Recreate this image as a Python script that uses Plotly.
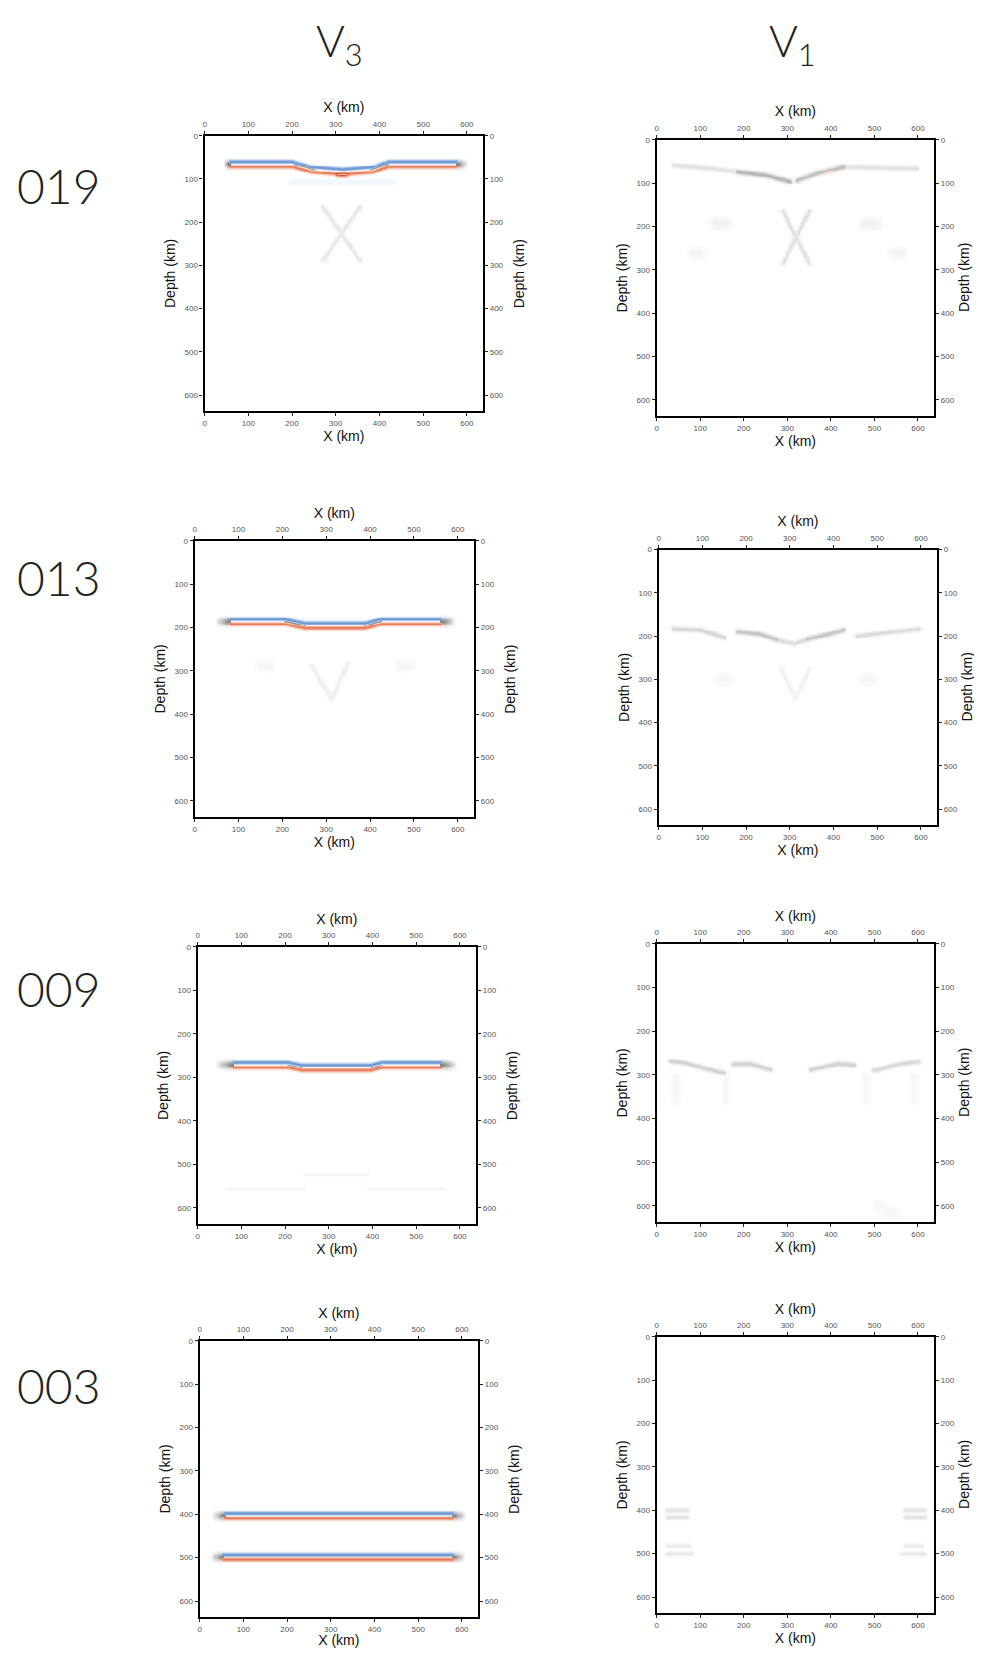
import numpy as np
import plotly.graph_objects as go

# ---------------- data ----------------
COLUMN_TITLES = ["V<sub>3</sub>", "V<sub>1</sub>"]
ROW_LABELS = ["019", "013", "009", "003"]
TICKS = [0, 100, 200, 300, 400, 500, 600]
AXIS_MAX = 637
X_TITLE = "X (km)"
Y_TITLE = "Depth (km)"

# Reflectors (blue over red doublet): x path (km), depth of blue lobe (km), left/right grey fade (km)
V3_019_REFLECTORS = [([55, 200, 245, 315, 385, 420, 580], [61, 61, 73, 78, 73, 61, 61], 12, 22)]
V3_013_REFLECTORS = [([77, 206, 251, 388, 425, 566], [181, 181, 190, 190, 181, 181], 30, 30)]
V3_009_REFLECTORS = [([78, 207, 237, 397, 420, 561], [266, 266, 272, 272, 266, 266], 38, 34)]
V3_003_REFLECTORS = [([54, 583], [398, 398], 25, 27), ([50, 583], [493, 493], 25, 25)]

# Grey streaks: x path (km), depth path (km), intensity, half-width (km)
V3_019_STREAKS = [
    ([271, 355], [165, 288], 0.10, 4), ([355, 271], [165, 288], 0.10, 4),
    ([205, 250], [66, 78], 0.45, 1.8), ([380, 420], [78, 66], 0.45, 1.8),
]
V3_013_STREAKS = [
    ([266, 312], [288, 365], 0.07, 4), ([350, 312], [281, 365], 0.07, 4),
    ([150, 170], [288, 288], 0.04, 10), ([470, 490], [288, 288], 0.04, 10),
    ([206, 251], [186, 195], 0.45, 1.8), ([388, 425], [195, 186], 0.45, 1.8),
]
V3_009_STREAKS = [
    ([245, 390], [523, 523], 0.05, 3), ([70, 245], [557, 557], 0.05, 3), ([390, 561], [557, 557], 0.05, 3),
    ([207, 237], [272, 278], 0.4, 1.8), ([397, 420], [278, 272], 0.4, 1.8),
]
V3_003_STREAKS = []

V1_019_STREAKS = [
    ([40, 120, 185], [59, 66, 74], 0.13, 4),
    ([185, 250, 307], [74, 82, 97], 0.33, 4),
    ([322, 370, 429], [94, 77, 63], 0.28, 4),
    ([429, 520, 597], [63, 65, 67], 0.13, 4),
    ([290, 350], [165, 285], 0.13, 4), ([350, 290], [165, 285], 0.13, 4),
    ([135, 160], [193, 193], 0.06, 10), ([478, 503], [193, 193], 0.06, 10),
    ([85, 100], [262, 262], 0.05, 10), ([545, 560], [262, 262], 0.05, 10),
]
V1_013_STREAKS = [
    ([35, 96, 150], [184, 186, 203], 0.18, 4),
    ([180, 230, 271], [190, 195, 208], 0.26, 4),
    ([271, 309, 339], [208, 218, 207], 0.16, 4),
    ([339, 390, 423], [207, 195, 186], 0.26, 4),
    ([454, 520, 594], [200, 192, 184], 0.16, 4),
    ([280, 312], [275, 345], 0.06, 4), ([345, 312], [275, 345], 0.06, 4),
    ([140, 160], [300, 300], 0.04, 10), ([470, 490], [300, 300], 0.04, 10),
]
V1_009_STREAKS = [
    ([32, 60, 154], [269, 272, 296], 0.2, 4),
    ([177, 214, 261], [276, 275, 288], 0.2, 4),
    ([353, 417, 452], [288, 275, 278], 0.2, 4),
    ([498, 560, 601], [290, 275, 270], 0.17, 4),
    ([45, 45], [305, 360], 0.035, 8), ([160, 160], [305, 360], 0.035, 8),
    ([480, 480], [305, 360], 0.035, 8), ([590, 590], [305, 360], 0.035, 8),
    ([510, 550], [600, 620], 0.03, 12),
]
V1_003_STREAKS = [
    ([25, 70], [400, 400], 0.12, 4), ([25, 70], [416, 416], 0.12, 4),
    ([25, 75], [482, 482], 0.10, 4), ([25, 80], [500, 500], 0.10, 4),
    ([570, 615], [400, 400], 0.12, 4), ([570, 615], [416, 416], 0.12, 4),
    ([570, 610], [482, 482], 0.10, 4), ([565, 615], [500, 500], 0.10, 4),
]

# Coloured tints (signed: <0 blue, >0 red): x path, depth path, value, half-width
V3_019_TINTS = [([305, 325], [92, 92], 0.5, 3), ([200, 430], [108, 108], -0.06, 6)]
V3_013_TINTS = []
V3_009_TINTS = []
V3_003_TINTS = []
V1_019_TINTS = [([360, 415], [80, 70], 0.2, 4), ([325, 350], [240, 285], 0.07, 4)]
V1_013_TINTS = []
V1_009_TINTS = []
V1_003_TINTS = []

PANELS = [
    (V3_019_REFLECTORS, V3_019_STREAKS, V3_019_TINTS), ([], V1_019_STREAKS, V1_019_TINTS),
    (V3_013_REFLECTORS, V3_013_STREAKS, V3_013_TINTS), ([], V1_013_STREAKS, V1_013_TINTS),
    (V3_009_REFLECTORS, V3_009_STREAKS, V3_009_TINTS), ([], V1_009_STREAKS, V1_009_TINTS),
    (V3_003_REFLECTORS, V3_003_STREAKS, V3_003_TINTS), ([], V1_003_STREAKS, V1_003_TINTS),
]

# ---------------- rendering helpers ----------------
OFF = 8                      # default page body margin
W, H = 982 - OFF, 1656 - 2 * OFF
GX = np.arange(0, AXIS_MAX + 0.1, 2.5)
GY = np.arange(0, AXIS_MAX + 0.1, 2.0)
X, Y = np.meshgrid(GX, GY)
SEP = 11.0
SIG = 3.2
AMP = 0.72


def poly_dist(xs, ds):
    dist = np.full(X.shape, np.inf)
    for i in range(len(xs) - 1):
        x0, y0, x1, y1 = xs[i], ds[i], xs[i + 1], ds[i + 1]
        dx, dy = x1 - x0, y1 - y0
        L2 = dx * dx + dy * dy
        if L2 == 0:
            L2 = 1e-9
        t = np.clip(((X - x0) * dx + (Y - y0) * dy) / L2, 0, 1)
        dist = np.minimum(dist, np.hypot(X - (x0 + t * dx), Y - (y0 + t * dy)))
    return dist


def build(reflectors, streaks, tints):
    col = np.zeros(X.shape)
    gr = np.zeros(X.shape)
    for xs, ds, fl, fr in reflectors:
        D = np.interp(GX, xs, ds)[None, :]
        wc = (np.clip((GX - xs[0] + 4) / 8, 0, 1) * np.clip((xs[-1] - GX + 4) / 8, 0, 1))[None, :]
        lobe = -np.exp(-(Y - D) ** 2 / (2 * SIG ** 2)) + np.exp(-(Y - D - SEP) ** 2 / (2 * SIG ** 2))
        col += AMP * wc * lobe
        wl = np.clip(1 - (xs[0] - GX) / fl, 0, 1) * (GX <= xs[0] + 6)
        wr = np.clip(1 - (GX - xs[-1]) / fr, 0, 1) * (GX >= xs[-1] - 6)
        wg = np.maximum(wl, wr)[None, :]
        gr = np.maximum(gr, 0.55 * wg * np.exp(-(Y - D - SEP / 2) ** 2 / (2 * 6.0 ** 2)))
    for xs, ds, g, w in streaks:
        gr = np.maximum(gr, g * np.exp(-poly_dist(xs, ds) ** 2 / (2 * w ** 2)))
    for xs, ds, v, w in tints:
        col += v * np.exp(-poly_dist(xs, ds) ** 2 / (2 * w ** 2))
    z = np.where(np.abs(col) >= gr, np.clip(col, -1, 1), 1.002 + np.clip(gr, 0, 0.998))
    z = np.where(np.maximum(np.abs(col), gr) < 0.01, 0.0, z)
    return z.astype(np.float32)


COLORSCALE = [
    [0.0, "rgb(60,105,185)"],
    [0.1667, "rgb(150,185,228)"],
    [0.3333, "rgb(255,255,255)"],
    [0.5, "rgb(242,165,135)"],
    [0.6666, "rgb(215,70,40)"],
    [0.6667, "rgb(255,255,255)"],
    [1.0, "rgb(30,30,30)"],
]

# panel frames in page pixels: left, top, right, bottom
PANEL_BOXES = [
    (203, 132, 482, 408), (656, 136, 934, 413),
    (193, 538, 473, 815), (658, 547, 937, 823),
    (196, 945, 475, 1223), (656, 942, 934, 1221),
    (198, 1340, 477, 1617), (656, 1336, 934, 1613),
]
RIGHT_TITLE_GAP = [36, 30]   # per column

TICKFONT = dict(family="Liberation Sans, Arial, sans-serif", size=8, color="#555")
TITLEFONT = dict(family="Liberation Sans, Arial, sans-serif", size=14, color="#111")


def px(xp):
    return (xp - OFF) / W


def py(yp):
    return 1 - (yp - OFF) / H


fig = go.Figure()
layout = {}
annotations = []


def ax_name(kind, i):
    return kind if i == 1 else f"{kind}{i}"


for k, (refl, streaks, tints) in enumerate(PANELS):
    ib, it = 2 * k + 1, 2 * k + 2
    xb, xt = ax_name("x", ib), ax_name("x", it)
    yb, yt = ax_name("y", ib), ax_name("y", it)
    l, t, r, b = PANEL_BOXES[k]
    z = build(refl, streaks, tints)
    fig.add_trace(go.Heatmap(
        x=GX, y=GY, z=z, xaxis=xb, yaxis=yb, zmin=-1, zmax=2,
        colorscale=COLORSCALE, showscale=False, zsmooth=False, hoverinfo="skip"))
    fig.add_trace(go.Scatter(x=[0], y=[0], xaxis=xt, yaxis=yt, mode="markers",
                             marker=dict(opacity=0), showlegend=False, hoverinfo="skip"))
    common = dict(tickvals=TICKS, ticks="outside", ticklen=3, tickwidth=1, tickcolor="#222",
                  tickfont=TICKFONT, showline=True, linewidth=2.2, linecolor="black",
                  showgrid=False, zeroline=False, fixedrange=True)
    layout[ax_name("xaxis", ib)] = dict(common, domain=[px(l), px(r)], anchor=yb, side="bottom",
                                        range=[0, AXIS_MAX],
                                        title=dict(text=X_TITLE, font=TITLEFONT, standoff=4))
    layout[ax_name("xaxis", it)] = dict(common, overlaying=xb, anchor=yb, side="top",
                                        range=[0, AXIS_MAX],
                                        title=dict(text=X_TITLE, font=TITLEFONT, standoff=4))
    layout[ax_name("yaxis", ib)] = dict(common, domain=[py(b), py(t)], anchor=xb, side="left",
                                        range=[AXIS_MAX, 0],
                                        title=dict(text=Y_TITLE, font=TITLEFONT, standoff=6))
    layout[ax_name("yaxis", it)] = dict(common, overlaying=yb, anchor=xb, side="right",
                                        range=[AXIS_MAX, 0])
    annotations.append(dict(text=Y_TITLE, x=px(r + RIGHT_TITLE_GAP[k % 2]), y=py((t + b) / 2),
                            xref="paper", yref="paper",
                            showarrow=False, textangle=-90, xanchor="center", yanchor="middle",
                            font=TITLEFONT))

COL_X = [338, 792]
for i, txt in enumerate(COLUMN_TITLES):
    annotations.append(dict(text=txt, x=px(COL_X[i]), y=py(40), xref="paper", yref="paper",
                            showarrow=False, xanchor="center", yanchor="middle",
                            font=dict(family="Lato, sans-serif", size=44, color="#222", weight=300)))
ROW_Y = [182, 575, 987, 1385]
for i, txt in enumerate(ROW_LABELS):
    annotations.append(dict(text=txt, x=px(57), y=py(ROW_Y[i]), xref="paper", yref="paper",
                            showarrow=False, xanchor="center", yanchor="middle",
                            font=dict(family="Lato, sans-serif", size=48, color="#222", weight=300)))

fig.update_layout(**layout)
fig.update_layout(width=W, height=H, margin=dict(l=0, r=0, t=0, b=0),
                  paper_bgcolor="white", plot_bgcolor="white", showlegend=False,
                  annotations=annotations)
fig.write_html("out.html")
